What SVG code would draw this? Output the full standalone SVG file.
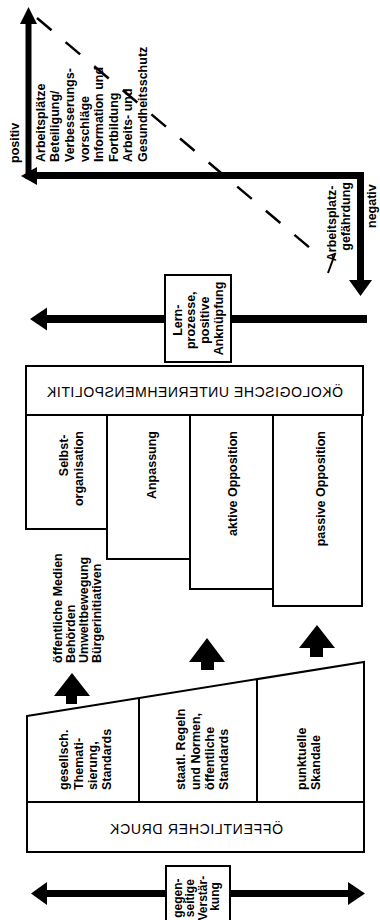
<svg xmlns="http://www.w3.org/2000/svg" width="380" height="920" viewBox="0 0 380 920">
<style>
.t{font-family:"Liberation Sans",Arial,sans-serif;font-size:12.5px;font-weight:bold;fill:#000}
.s{font-size:12px}
.h{font-family:"Liberation Sans",Arial,sans-serif;font-size:14px;fill:#000}
.box{fill:#fff;stroke:#000;stroke-width:2}
.ln{fill:none;stroke:#000;stroke-width:2}
.thick{fill:none;stroke:#000}
.head{fill:#000;stroke:none}
</style>
<rect width="380" height="920" fill="#fff"/>
<g id="connectors">
  <line class="thick" x1="28.5" y1="179" x2="28.5" y2="22" stroke-width="6"/>
  <polygon class="head" points="28.5,7 20,24 37,24"/>
  <polyline class="thick" points="34,175.5 360.5,175.5 360.5,281" stroke-width="7"/>
  <polygon class="head" points="21,176 37,167 37,185"/>
  <polygon class="head" points="360.5,296 349,280 372,280"/>
  <line x1="37" y1="18" x2="311" y2="248.8" stroke="#000" stroke-width="2.5" stroke-dasharray="19 18.4"/>
  <line x1="328" y1="273" x2="335" y2="254" stroke="#000" stroke-width="2"/>
  <line class="thick" x1="44" y1="319" x2="367" y2="319" stroke-width="8"/>
  <polygon class="head" points="30,319 47,307.5 47,330.5"/>
  <polygon class="head" points="72,673 54,696 66,696 66,704 77,704 77,696 90,696"/>
  <polygon class="head" points="207,638 189,662 201,662 201,670 214,670 214,662 225,662"/>
  <polygon class="head" points="317,625 299,648 310,648 310,657 323,657 323,648 335,648"/>
  <line class="thick" x1="45" y1="893.5" x2="350" y2="893.5" stroke-width="7"/>
  <polygon class="head" points="31,893.5 47,882 47,905"/>
  <polygon class="head" points="365,893.5 348,882 348,905"/>
</g>
<g id="axis-labels">
  <text class="t" transform="rotate(-90)" x="-163" y="18.5">positiv</text>
  <text class="t" transform="rotate(-90)" x="-228" y="376">negativ</text>
  <text class="t" transform="rotate(-90)" text-anchor="end">
    <tspan x="-182" y="335.5">Arbeitsplatz-</tspan>
    <tspan x="-182" y="350">gefährdung</tspan>
  </text>
</g>
<g id="positive-list">
  <text class="t" transform="rotate(-90)">
    <tspan x="-162" y="44.8">Arbeitsplätze</tspan>
    <tspan x="-162" y="59.4">Beteiligung/</tspan>
    <tspan x="-162" y="73.9">Verbesserungs-</tspan>
    <tspan x="-162" y="88.5">vorschläge</tspan>
    <tspan x="-162" y="103.1">Information und</tspan>
    <tspan x="-162" y="117.7">Fortbildung</tspan>
    <tspan x="-162" y="132.2">Arbeits- und</tspan>
    <tspan x="-162" y="146.8">Gesundheitsschutz</tspan>
  </text>
</g>
<g id="lernprozesse">
  <rect class="box" x="165" y="275" width="66" height="87"/>
  <text class="t" transform="rotate(-90)" text-anchor="middle">
    <tspan x="-318.5" y="181.5">Lern-</tspan>
    <tspan x="-318.5" y="195.3">prozesse,</tspan>
    <tspan x="-318.5" y="209">positive</tspan>
    <tspan x="-318.5" y="222.8">Anknüpfung</tspan>
  </text>
</g>
<g id="unternehmenspolitik">
  <rect class="box" x="26" y="366" width="337" height="49"/>
  <text class="h" transform="scale(-1,1)" x="-195" y="397" text-anchor="middle" textLength="296" lengthAdjust="spacing">ÖKOLOGISCHE UNTERNEHMENSPOLITIK</text>
</g>
<g id="selbstorganisation">
  <rect class="box" x="26" y="415" width="81" height="114"/>
  <text class="t" transform="rotate(-90)" text-anchor="end">
    <tspan x="-431" y="68">Selbst-</tspan>
    <tspan x="-431" y="82.5">organisation</tspan>
  </text>
</g>
<g id="anpassung">
  <rect class="box" x="107" y="415" width="83" height="144"/>
  <text class="t" transform="rotate(-90)" x="-431" y="155.5" text-anchor="end">Anpassung</text>
</g>
<g id="aktive-opposition">
  <rect class="box" x="190" y="415" width="83" height="174"/>
  <text class="t" transform="rotate(-90)" x="-431" y="237" text-anchor="end">aktive Opposition</text>
</g>
<g id="passive-opposition">
  <rect class="box" x="273" y="415" width="89" height="191"/>
  <text class="t" transform="rotate(-90)" x="-431" y="325" text-anchor="end">passive Opposition</text>
</g>
<g id="akteure">
  <text class="t" transform="rotate(-90)">
    <tspan x="-663" y="62">öffentliche Medien</tspan>
    <tspan x="-663" y="75">Behörden</tspan>
    <tspan x="-663" y="87.5">Umweltbewegung</tspan>
    <tspan x="-663" y="100.5">Bürgerinitiativen</tspan>
  </text>
</g>
<g id="oeffentlicher-druck">
  <polygon class="box" points="27,716 364,662 364,852 27,852" stroke-width="2.5"/>
  <line class="ln" x1="27" y1="802" x2="364" y2="802"/>
  <line class="ln" x1="139" y1="698" x2="139" y2="802"/>
  <line class="ln" x1="257" y1="680" x2="257" y2="802"/>
  <text class="h" transform="scale(-1,1)" x="-196.5" y="834" text-anchor="middle" textLength="173" lengthAdjust="spacing">ÖFFENTLICHER DRUCK</text>
</g>
<g id="thematisierung">
  <text class="t" transform="rotate(-90)">
    <tspan x="-790" y="68">gesellsch.</tspan>
    <tspan x="-790" y="82.5">Themati-</tspan>
    <tspan x="-790" y="96.5">sierung,</tspan>
    <tspan x="-790" y="111">Standards</tspan>
  </text>
</g>
<g id="regeln">
  <text class="t" transform="rotate(-90)">
    <tspan x="-790" y="185">staatl. Regeln</tspan>
    <tspan x="-790" y="200">und Normen,</tspan>
    <tspan x="-790" y="214">öffentliche</tspan>
    <tspan x="-790" y="228">Standards</tspan>
  </text>
</g>
<g id="skandale">
  <text class="t" transform="rotate(-90)">
    <tspan x="-790" y="306">punktuelle</tspan>
    <tspan x="-790" y="319.5">Skandale</tspan>
  </text>
</g>
<g id="verstaerkung">
  <rect class="box" x="166" y="866" width="64" height="70"/>
  <text class="t s" transform="rotate(-90)" text-anchor="middle">
    <tspan x="-896.5" y="181.5">gegen-</tspan>
    <tspan x="-896.5" y="194">seitige</tspan>
    <tspan x="-896.5" y="206.5">Verstär-</tspan>
    <tspan x="-896.5" y="219">kung</tspan>
  </text>
</g>
</svg>
